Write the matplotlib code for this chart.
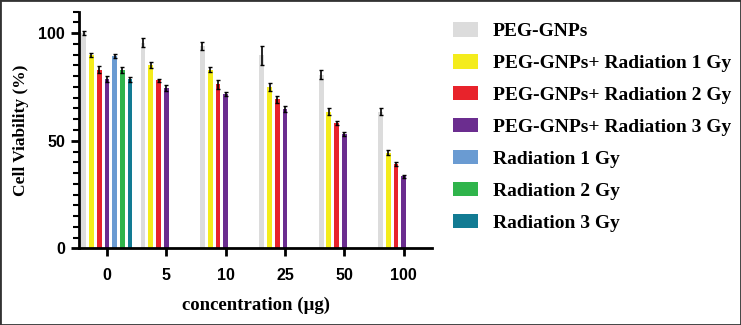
import numpy as np
import matplotlib.pyplot as plt
from matplotlib.patches import Rectangle

concentrations = ['0', '5', '10', '25', '50', '100']
series = ['PEG-GNPs', 'PEG-GNPs+ Radiation 1 Gy', 'PEG-GNPs+ Radiation 2 Gy',
          'PEG-GNPs+ Radiation 3 Gy', 'Radiation 1 Gy', 'Radiation 2 Gy', 'Radiation 3 Gy']
colors = ['#dcdcdc', '#f4ec1c', '#e8232b', '#6b2d8f', '#6a9bd2', '#2fb44b', '#127b93']

nan = np.nan
peg = [100.0, 95.6, 94.0, 89.7, 80.8, 63.6]
peg_1gy = [89.8, 85.2, 83.1, 75.0, 63.6, 44.5]
peg_2gy = [83.1, 78.1, 76.2, 69.2, 58.3, 39.3]
peg_3gy = [78.6, 74.5, 71.7, 64.8, 53.1, 33.4]
rad_1gy = [89.5, nan, nan, nan, nan, nan]
rad_2gy = [83.0, nan, nan, nan, nan, nan]
rad_3gy = [78.5, nan, nan, nan, nan, nan]

peg_err = [1.0, 2.0, 2.0, 4.5, 2.0, 1.5]
peg_1gy_err = [1.0, 1.5, 1.0, 2.0, 1.5, 1.0]
peg_2gy_err = [1.5, 0.8, 2.0, 1.5, 1.0, 1.0]
peg_3gy_err = [1.5, 1.3, 0.8, 1.2, 0.8, 0.8]
rad_1gy_err = [1.0, nan, nan, nan, nan, nan]
rad_2gy_err = [1.5, nan, nan, nan, nan, nan]
rad_3gy_err = [1.2, nan, nan, nan, nan, nan]

values = [peg, peg_1gy, peg_2gy, peg_3gy, rad_1gy, rad_2gy, rad_3gy]
errors = [peg_err, peg_1gy_err, peg_2gy_err, peg_3gy_err, rad_1gy_err, rad_2gy_err, rad_3gy_err]

fig = plt.figure(figsize=(7.41, 3.25), dpi=100)
ax = fig.add_axes([0.1066, 0.236, 0.4766, 0.728])

x = np.arange(len(concentrations))
step = 0.13
width = 0.08
handles = []
for j, (vals, errs, c, name) in enumerate(zip(values, errors, colors, series)):
    pos = x + (j - 3) * step
    b = ax.bar(pos, vals, width=width, color=c, label=name, zorder=2)
    ax.errorbar(pos, vals, yerr=errs, fmt='none', ecolor='black',
                elinewidth=1.2, capsize=1.6, capthick=1.0, zorder=3)
    handles.append(b)

ax.set_xlim(-0.47, 5.48)
ax.set_ylim(0, 110)
ax.set_yticks([0, 50, 100])
ax.set_yticks(np.arange(0, 111, 5), minor=True)
ax.set_xticks(x)
ax.set_xticklabels(concentrations)

for s in ['top', 'right']:
    ax.spines[s].set_visible(False)
for s in ['left', 'bottom']:
    ax.spines[s].set_linewidth(2.0)

ax.tick_params(axis='both', which='major', width=2.0, length=6, labelsize=11.5, pad=4)
ax.tick_params(axis='y', which='minor', width=1.5, length=4)
ax.tick_params(axis='x', pad=8)
for lab in ax.get_xticklabels() + ax.get_yticklabels():
    lab.set_fontfamily('Liberation Sans')
    lab.set_fontweight('bold')

ax.set_ylabel('Cell Viability (%)', fontsize=12.5, fontweight='bold',
              fontfamily='Liberation Serif', labelpad=7)
ax.set_xlabel('concentration (µg)', fontsize=13.5, fontweight='bold',
              fontfamily='Liberation Serif', labelpad=10)

fig.legend(handles=handles, labels=series, loc='upper left',
           bbox_to_anchor=(0.601, 0.955), frameon=False,
           prop={'family': 'Liberation Serif', 'weight': 'bold', 'size': 14},
           handlelength=1.3, handleheight=0.75, handletextpad=0.75,
           labelspacing=0.72, borderaxespad=0)

fig.patches.append(Rectangle((0, 0), 1, 1, transform=fig.transFigure,
                             fill=False, edgecolor='#333333', linewidth=2.0))

fig.savefig('out.png', dpi=100)
